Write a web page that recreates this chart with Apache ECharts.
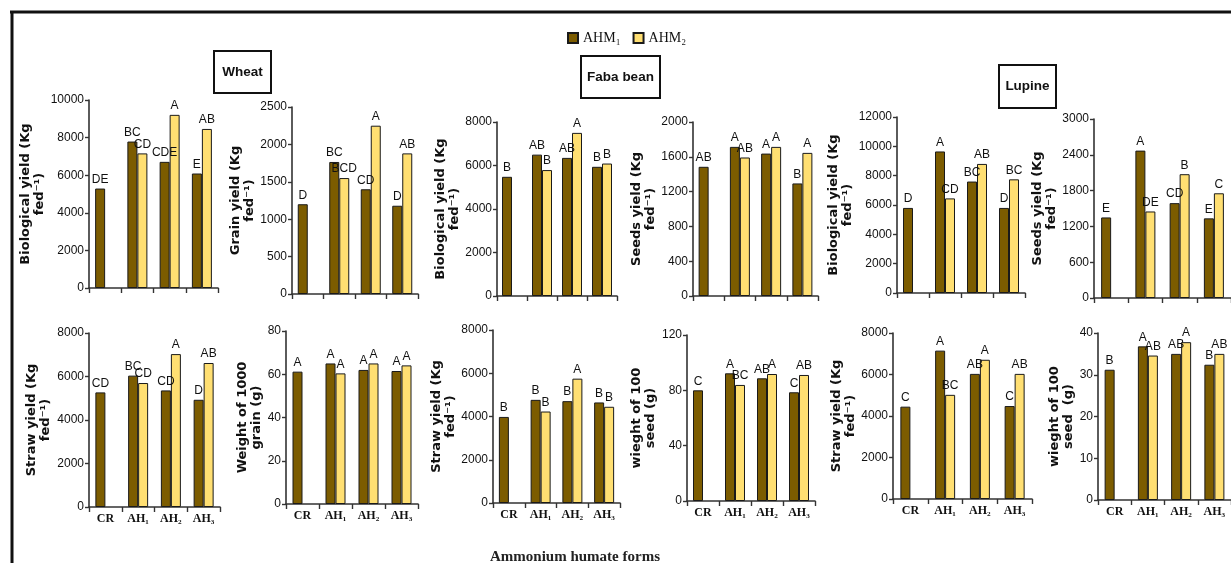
<!DOCTYPE html>
<html>
<head>
<meta charset="utf-8">
<script src="https://cdn.jsdelivr.net/npm/echarts@6/dist/echarts.min.js"></script>
<style>
html,body{margin:0;padding:0;background:#fff;}
#chart{width:1231px;height:571px;}
</style>
</head>
<body>
<div id="chart"></div>
<script>
// ---------- data ----------
const categories = ['CR', 'AH₁', 'AH₂', 'AH₃'];
const seriesNames = ['AHM₁', 'AHM₂'];

// Wheat
const wheatBioAHM1 = [5290, 7790, 6710, 6090];
const wheatBioAHM2 = [null, 7160, 9210, 8460];
const wheatBioLet1 = ['DE', 'BC', 'CDE', 'E'];
const wheatBioLet2 = ['', 'CD', 'A', 'AB'];

const wheatGrainAHM1 = [1200, 1765, 1400, 1180];
const wheatGrainAHM2 = [null, 1550, 2250, 1880];
const wheatGrainLet1 = ['D', 'BC', 'CD', 'D'];
const wheatGrainLet2 = ['', 'BCD', 'A', 'AB'];

const wheatStrawAHM1 = [5270, 6040, 5360, 4930];
const wheatStrawAHM2 = [null, 5700, 7030, 6620];
const wheatStrawLet1 = ['CD', 'BC', 'CD', 'D'];
const wheatStrawLet2 = ['', 'CD', 'A', 'AB'];

const wheat1000AHM1 = [61.2, 65.0, 62.0, 61.5];
const wheat1000AHM2 = [null, 60.4, 65.0, 64.1];
const wheat1000Let1 = ['A', 'A', 'A', 'A'];
const wheat1000Let2 = ['', 'A', 'A', 'A'];

// Faba bean
const fabaBioAHM1 = [5480, 6500, 6350, 5940];
const fabaBioAHM2 = [null, 5790, 7500, 6090];
const fabaBioLet1 = ['B', 'AB', 'AB', 'B'];
const fabaBioLet2 = ['', 'B', 'A', 'B'];

const fabaSeedsAHM1 = [1485, 1714, 1637, 1294];
const fabaSeedsAHM2 = [null, 1592, 1714, 1645];
const fabaSeedsLet1 = ['AB', 'A', 'A', 'B'];
const fabaSeedsLet2 = ['', 'AB', 'A', 'A'];

const fabaStrawAHM1 = [3980, 4770, 4710, 4650];
const fabaStrawAHM2 = [null, 4230, 5750, 4450];
const fabaStrawLet1 = ['B', 'B', 'B', 'B'];
const fabaStrawLet2 = ['', 'B', 'A', 'B'];

const faba100AHM1 = [80.0, 92.3, 88.7, 78.6];
const faba100AHM2 = [null, 83.9, 91.8, 91.1];
const faba100Let1 = ['C', 'A', 'AB', 'C'];
const faba100Let2 = ['', 'BC', 'A', 'AB'];

// Lupine
const lupBioAHM1 = [5800, 9650, 7600, 5800];
const lupBioAHM2 = [null, 6450, 8800, 7750];
const lupBioLet1 = ['D', 'A', 'BC', 'D'];
const lupBioLet2 = ['', 'CD', 'AB', 'BC'];

const lupSeedsAHM1 = [1350, 2470, 1590, 1335];
const lupSeedsAHM2 = [null, 1450, 2075, 1755];
const lupSeedsLet1 = ['E', 'A', 'CD', 'E'];
const lupSeedsLet2 = ['', 'DE', 'B', 'C'];

const lupStrawAHM1 = [4450, 7150, 6030, 4480];
const lupStrawAHM2 = [null, 5020, 6710, 6030];
const lupStrawLet1 = ['C', 'A', 'AB', 'C'];
const lupStrawLet2 = ['', 'BC', 'A', 'AB'];

const lup100AHM1 = [31.2, 36.8, 35.0, 32.4];
const lup100AHM2 = [null, 34.6, 37.8, 35.0];
const lup100Let1 = ['B', 'A', 'AB', 'B'];
const lup100Let2 = ['', 'AB', 'A', 'AB'];

// axis scales
const axisMax = [10000, 2500, 8000, 2000, 12000, 3000, 8000, 80, 8000, 120, 8000, 40];
const axisInterval = [2000, 500, 2000, 400, 2000, 600, 2000, 20, 2000, 40, 2000, 10];

const yTitles = [
  'Biological yield (Kg\nfed⁻¹)', 'Grain yield (Kg\nfed⁻¹)',
  'Biological yield (Kg\nfed⁻¹)', 'Seeds yield (Kg\nfed⁻¹)',
  'Biological yield (Kg\nfed⁻¹)', 'Seeds yield (Kg\nfed⁻¹)',
  'Straw yield (Kg\nfed⁻¹)', 'Weight of 1000\ngrain (g)',
  'Straw yield (Kg\nfed⁻¹)', 'wieght of 100\nseed (g)',
  'Straw yield (Kg\nfed⁻¹)', 'wieght of 100\nseed  (g)'
];

const panelData = [
  [wheatBioAHM1, wheatBioAHM2, wheatBioLet1, wheatBioLet2],
  [wheatGrainAHM1, wheatGrainAHM2, wheatGrainLet1, wheatGrainLet2],
  [fabaBioAHM1, fabaBioAHM2, fabaBioLet1, fabaBioLet2],
  [fabaSeedsAHM1, fabaSeedsAHM2, fabaSeedsLet1, fabaSeedsLet2],
  [lupBioAHM1, lupBioAHM2, lupBioLet1, lupBioLet2],
  [lupSeedsAHM1, lupSeedsAHM2, lupSeedsLet1, lupSeedsLet2],
  [wheatStrawAHM1, wheatStrawAHM2, wheatStrawLet1, wheatStrawLet2],
  [wheat1000AHM1, wheat1000AHM2, wheat1000Let1, wheat1000Let2],
  [fabaStrawAHM1, fabaStrawAHM2, fabaStrawLet1, fabaStrawLet2],
  [faba100AHM1, faba100AHM2, faba100Let1, faba100Let2],
  [lupStrawAHM1, lupStrawAHM2, lupStrawLet1, lupStrawLet2],
  [lup100AHM1, lup100AHM2, lup100Let1, lup100Let2]
];

// ---------- layout (positions only) ----------
const gridBoxes = [
  [89, 100, 129, 188], [292, 107, 126, 187], [497, 122, 120, 174],
  [693, 122, 125, 174], [897, 117, 128, 176], [1094, 119, 137, 179],
  [89, 333, 131, 174], [286, 331, 132, 173], [493, 330, 127, 173],
  [687, 335, 128, 166], [893, 333, 139, 166], [1098, 333, 133, 167]
];
const nameGaps = [36, 27, 32, 33, 37, 24, 36, 21, 30, 16, 28, 22];

const BROWN = '#7c5c00';
const YELLOW = '#ffdf72';
const SANS = "'Liberation Sans', Arial, sans-serif";
const SERIF = "'Liberation Serif', 'DejaVu Serif', serif";

const grids = [], xAxes = [], yAxes = [], series = [];
gridBoxes.forEach((b, i) => {
  grids.push({ left: b[0], top: b[1], width: b[2], height: b[3], containLabel: false });
  xAxes.push({
    type: 'category', gridIndex: i, data: categories,
    axisLine: { lineStyle: { color: '#333', width: 1.6 } },
    axisTick: { show: true, length: 5, lineStyle: { color: '#333', width: 1.4 } },
    axisLabel: { show: i >= 6, fontFamily: SERIF, fontWeight: 'bold', fontSize: 12, color: '#111', margin: 6 },
    splitLine: { show: false }
  });
  yAxes.push({
    type: 'value', gridIndex: i, min: 0, max: axisMax[i], interval: axisInterval[i],
    name: yTitles[i], nameLocation: 'middle', nameGap: nameGaps[i],
    nameTextStyle: { fontFamily: "'DejaVu Sans', sans-serif", fontWeight: 'bold', fontSize: 13, lineHeight: 14, color: '#111', align: 'center' },
    axisLine: { show: true, lineStyle: { color: '#333', width: 1.6 } },
    axisTick: { show: true, length: 4, inside: false, lineStyle: { color: '#333', width: 1.4 } },
    axisLabel: { fontFamily: SANS, fontSize: 12, color: '#111', margin: 5, formatter: v => String(v) },
    splitLine: { show: false }
  });
  const d = panelData[i];
  [0, 1].forEach(s => {
    const letters = d[2 + s];
    series.push({
      name: seriesNames[s], type: 'bar', xAxisIndex: i, yAxisIndex: i,
      data: d[s], barWidth: 10, barGap: '0%',
      itemStyle: { color: s === 0 ? BROWN : YELLOW, borderColor: '#1a1a1a', borderWidth: 1 },
      label: {
        show: true, position: 'top', distance: 3,
        fontFamily: SANS, fontSize: 12, color: '#111',
        formatter: p => letters[p.dataIndex] || ''
      }
    });
  });
});

const titleBoxes = [
  { text: 'Wheat', x: 214, y: 51, w: 57, h: 42 },
  { text: 'Faba bean', x: 581, y: 56, w: 79, h: 42 },
  { text: 'Lupine', x: 999, y: 65, w: 57, h: 43 }
];
const graphics = [
  { type: 'line', shape: { x1: 10, y1: 12, x2: 1231, y2: 12 }, style: { stroke: '#111', lineWidth: 3 } },
  { type: 'line', shape: { x1: 12, y1: 11, x2: 12, y2: 563 }, style: { stroke: '#111', lineWidth: 3 } },
  { type: 'text', x: 575, y: 557, style: { text: 'Ammonium humate forms', align: 'center', verticalAlign: 'middle', fontFamily: SERIF, fontWeight: 'bold', fontSize: 15, fill: '#222' } }
];
titleBoxes.forEach(t => {
  graphics.push({ type: 'rect', shape: { x: t.x, y: t.y, width: t.w, height: t.h }, style: { fill: '#fff', stroke: '#111', lineWidth: 2 } });
  graphics.push({ type: 'text', x: t.x + t.w / 2, y: t.y + t.h / 2, style: { text: t.text, align: 'center', verticalAlign: 'middle', fontFamily: SANS, fontWeight: 'bold', fontSize: 13.5, fill: '#111' } });
});

const chart = echarts.init(document.getElementById('chart'), null, { renderer: 'canvas' });
chart.setOption({
  animation: false,
  backgroundColor: '#fff',
  legend: {
    data: seriesNames, left: 562, top: 26, itemWidth: 10, itemHeight: 10, itemGap: 12,
    icon: 'rect',
    textStyle: { fontFamily: SERIF, fontSize: 14, color: '#111' }
  },
  grid: grids, xAxis: xAxes, yAxis: yAxes, series: series, graphic: graphics
});
</script>
</body>
</html>
